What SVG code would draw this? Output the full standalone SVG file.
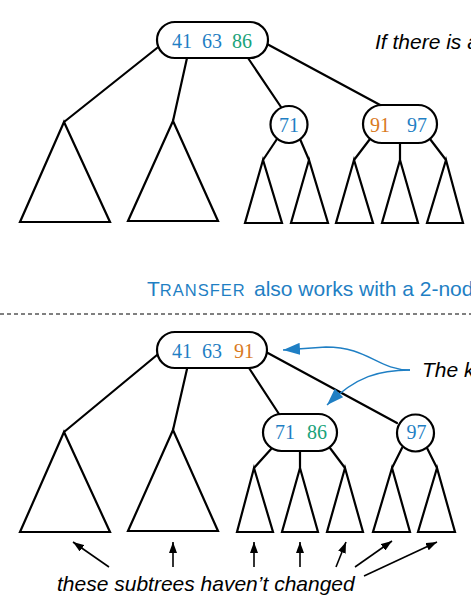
<svg xmlns="http://www.w3.org/2000/svg" width="471" height="602" viewBox="0 0 471 602">
<style>
.ln{stroke:#000;stroke-width:2.2;fill:none;stroke-linecap:round}
.tri{stroke:#000;stroke-width:2.2;fill:none;stroke-linejoin:miter}
.node{stroke:#000;stroke-width:2.2;fill:#fff}
.key{font-family:"Liberation Serif",serif;font-size:20px}
.b{fill:#1f7fc4}
.g{fill:#1aa37a}
.o{fill:#d97a1e}
.note{font-family:"Liberation Sans",Arial,sans-serif;font-size:21px;font-style:italic;fill:#000}
.ar{stroke:#000;stroke-width:1.6;fill:none}
.bar{stroke:#1f7fc4;stroke-width:1.4;fill:none}
</style>
<defs>
<marker id="ah" markerUnits="userSpaceOnUse" viewBox="0 0 11 8" markerWidth="11" markerHeight="8" refX="11" refY="4" orient="auto"><path d="M0,0 L11,4 L0,8 z" fill="#000"/></marker>
<marker id="bh" markerUnits="userSpaceOnUse" viewBox="0 0 17 12" markerWidth="17" markerHeight="12" refX="17" refY="6" orient="auto"><path d="M0,0 L17,6 L0,12 z" fill="#1f7fc4"/></marker>
</defs>
<rect width="471" height="602" fill="#fff"/>

<g id="connectors">
<line class="ln" x1="157" y1="48" x2="64" y2="122"/>
<line class="ln" x1="187" y1="58" x2="173" y2="121"/>
<line class="ln" x1="248" y1="58" x2="281" y2="107"/>
<line class="ln" x1="267" y1="44" x2="382" y2="106"/>
<line class="ln" x1="277" y1="139" x2="263" y2="160"/>
<line class="ln" x1="300" y1="139" x2="309" y2="160"/>
<line class="ln" x1="370" y1="139" x2="354" y2="160"/>
<line class="ln" x1="400" y1="143" x2="400" y2="160"/>
<line class="ln" x1="430" y1="139" x2="446" y2="160"/>

<line class="ln" x1="157" y1="355" x2="64" y2="432"/>
<line class="ln" x1="187" y1="369" x2="173" y2="430"/>
<line class="ln" x1="249" y1="368" x2="279" y2="414"/>
<line class="ln" x1="266" y1="352" x2="397" y2="423"/>
<line class="ln" x1="272" y1="448" x2="254" y2="468"/>
<line class="ln" x1="300" y1="451" x2="300" y2="468"/>
<line class="ln" x1="330" y1="448" x2="345" y2="468"/>
<line class="ln" x1="402" y1="448" x2="392" y2="468"/>
<line class="ln" x1="427" y1="448" x2="437" y2="468"/>

<path class="bar" d="M410,370 C378,370 368,347 326,347 L283,350" marker-end="url(#bh)"/>
<path class="bar" d="M410,370 C380,370 356,376 327,405" marker-end="url(#bh)"/>

<line class="ar" x1="109" y1="567" x2="73" y2="542" marker-end="url(#ah)"/>
<line class="ar" x1="173" y1="567" x2="173" y2="542" marker-end="url(#ah)"/>
<line class="ar" x1="254" y1="567" x2="254" y2="542" marker-end="url(#ah)"/>
<line class="ar" x1="300" y1="567" x2="300" y2="542" marker-end="url(#ah)"/>
<line class="ar" x1="336" y1="567" x2="346" y2="542" marker-end="url(#ah)"/>
<line class="ar" x1="355" y1="567" x2="392" y2="541" marker-end="url(#ah)"/>
<line class="ar" x1="364" y1="576" x2="437" y2="542" marker-end="url(#ah)"/>
</g>

<g id="subtrees-top">
<path class="tri" d="M64,122 L20,222 L110,222 Z"/>
<path class="tri" d="M173,121 L128,221 L218,221 Z"/>
<path class="tri" d="M263,160 L245,223 L282,223 Z"/>
<path class="tri" d="M309,160 L291,223 L328,223 Z"/>
<path class="tri" d="M354,160 L336,223 L373,223 Z"/>
<path class="tri" d="M400,160 L382,223 L418,223 Z"/>
<path class="tri" d="M446,160 L427,223 L463,223 Z"/>
</g>
<g id="subtrees-bottom">
<path class="tri" d="M64,432 L20,532 L110,532 Z"/>
<path class="tri" d="M173,430 L128,531 L218,531 Z"/>
<path class="tri" d="M254,468 L237,532 L273,532 Z"/>
<path class="tri" d="M300,468 L282,532 L318,532 Z"/>
<path class="tri" d="M345,468 L327,532 L363,532 Z"/>
<path class="tri" d="M392,468 L373,532 L410,532 Z"/>
<path class="tri" d="M437,468 L418,532 L455,532 Z"/>
</g>

<g id="root-top">
<rect class="node" x="157" y="22" width="111" height="36" rx="18"/>
<text class="key" y="48"><tspan class="b" x="172">41</tspan><tspan class="b" x="202">63</tspan><tspan class="g" x="232">86</tspan></text>
</g>
<g id="n71-top">
<circle class="node" cx="289" cy="124.5" r="18.5"/>
<text class="key b" x="289" y="132" text-anchor="middle">71</text>
</g>
<g id="n91-97-top">
<rect class="node" x="363" y="105" width="74" height="38" rx="19"/>
<text class="key" y="132"><tspan class="o" x="370">91</tspan><tspan class="b" x="407">97</tspan></text>
</g>

<g id="root-bottom">
<rect class="node" x="157" y="332" width="110" height="36" rx="18"/>
<text class="key" y="358"><tspan class="b" x="172">41</tspan><tspan class="b" x="202">63</tspan><tspan class="o" x="234">91</tspan></text>
</g>
<g id="n71-86-bottom">
<rect class="node" x="263" y="414" width="74" height="37" rx="18.5"/>
<text class="key" y="439"><tspan class="b" x="275">71</tspan><tspan class="g" x="307">86</tspan></text>
</g>
<g id="n97-bottom">
<circle class="node" cx="415.5" cy="433" r="18.5"/>
<text class="key b" x="416.5" y="439" text-anchor="middle">97</text>
</g>

<line x1="0" y1="314" x2="471" y2="314" stroke="#000" stroke-width="1" stroke-dasharray="4,3"/>

<text class="note" x="375" y="49">If there is a</text>
<text font-family="'Liberation Sans',Arial,sans-serif" fill="#1f7fc4" y="296"><tspan x="147" font-size="21">T</tspan><tspan font-size="16.5" letter-spacing="1">RANSFER</tspan><tspan x="254" font-size="21">also works with a 2-nod</tspan></text>
<text class="note" x="422" y="377">The k</text>
<text class="note" x="57" y="591">these subtrees haven’t changed</text>
</svg>
